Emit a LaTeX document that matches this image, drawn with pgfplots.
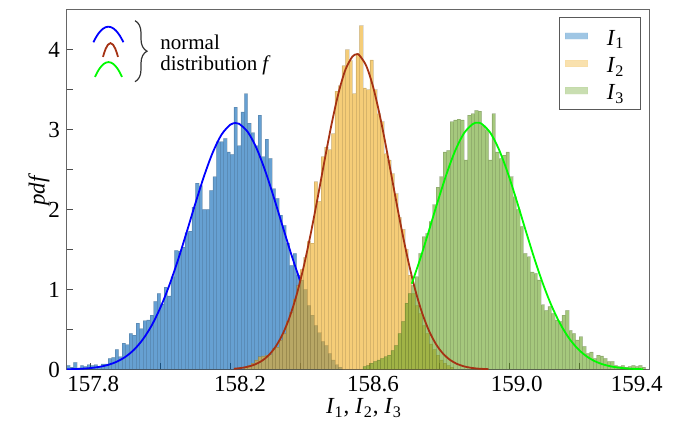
\documentclass[border=0pt]{standalone}
\usepackage{fontspec}
\setmainfont{Liberation Serif}
\usepackage{pgfplots}
\usepackage{pgfplotstable}
\pgfplotsset{compat=1.18}
\usetikzlibrary{decorations.pathreplacing}
\definecolor{cA}{RGB}{0,97,180}
\definecolor{cB}{RGB}{238,172,30}
\definecolor{cC}{RGB}{105,163,38}
\definecolor{cAl}{RGB}{95,160,210}
\definecolor{cBl}{RGB}{245,205,120}
\definecolor{cCl}{RGB}{165,200,125}
\definecolor{fA}{RGB}{0,0,255}
\definecolor{fB}{RGB}{165,50,20}
\definecolor{fC}{RGB}{0,250,0}

\pgfplotstableread{
x y
157.73 0.05
157.74 0.03
157.75 0.09
157.76 0.02
157.77 0.05
157.78 0.04
157.79 0.06
157.80 0.05
157.81 0.06
157.82 0.04
157.83 0.07
157.84 0.07
157.85 0.14
157.86 0.15
157.87 0.25
157.88 0.16
157.89 0.33
157.90 0.31
157.91 0.45
157.92 0.43
157.93 0.58
157.94 0.51
157.95 0.61
157.96 0.62
157.97 0.68
157.98 0.85
157.99 0.95
158.00 0.82
158.01 1.03
158.02 0.92
158.03 1.16
158.04 1.49
158.05 1.48
158.06 1.53
158.07 1.71
158.08 1.73
158.09 2.03
158.10 2.33
158.11 2.30
158.12 2.00
158.13 2.00
158.14 2.24
158.15 2.41
158.16 2.85
158.17 2.85
158.18 2.89
158.19 2.72
158.20 2.69
158.21 3.28
158.22 2.80
158.23 3.22
158.24 3.45
158.25 3.08
158.26 2.96
158.27 2.80
158.28 3.18
158.29 2.66
158.30 2.88
158.31 2.64
158.32 2.26
158.33 2.14
158.34 1.93
158.35 1.80
158.36 1.58
158.37 1.30
158.38 1.45
158.39 1.18
158.40 1.12
158.41 1.00
158.42 0.80
158.43 0.68
158.44 0.55
158.45 0.46
158.46 0.35
158.47 0.30
158.48 0.20
158.49 0.12
158.50 0.06
158.51 0.03
158.52 0
}\histA

\pgfplotstableread{
x y
158.24 0.03
158.25 0.05
158.26 0.08
158.27 0.12
158.28 0.16
158.29 0.17
158.30 0.18
158.31 0.19
158.32 0.26
158.33 0.28
158.34 0.37
158.35 0.45
158.36 0.60
158.37 0.72
158.38 0.88
158.39 1.05
158.40 1.25
158.41 1.40
158.42 1.60
158.43 1.58
158.44 2.35
158.45 2.10
158.46 2.66
158.47 2.78
158.48 2.75
158.49 2.95
158.50 3.48
158.51 3.55
158.52 3.80
158.53 4.00
158.54 3.86
158.55 3.45
158.56 3.95
158.57 4.30
158.58 3.52
158.59 3.50
158.60 3.87
158.61 3.50
158.62 3.20
158.63 3.10
158.64 2.70
158.65 2.62
158.66 2.45
158.67 2.20
158.68 1.90
158.69 1.75
158.70 1.50
158.71 1.18
158.72 0.95
158.73 0.80
158.74 0.70
158.75 0.55
158.76 0.45
158.77 0.32
158.78 0.25
158.79 0.18
158.80 0.12
158.81 0.08
158.82 0.05
158.83 0.03
158.84 0
}\histB

\pgfplotstableread{
x y
158.58 0.04
158.59 0.05
158.60 0.08
158.61 0.10
158.62 0.12
158.63 0.14
158.64 0.16
158.65 0.18
158.66 0.24
158.67 0.30
158.68 0.45
158.69 0.60
158.70 0.83
158.71 0.95
158.72 1.05
158.73 1.16
158.74 1.45
158.75 1.66
158.76 1.70
158.77 1.85
158.78 2.06
158.79 2.28
158.80 2.41
158.81 2.72
158.82 2.74
158.83 3.10
158.84 3.12
158.85 3.13
158.86 3.12
158.87 2.62
158.88 3.18
158.89 3.20
158.90 3.24
158.91 3.23
158.92 3.05
158.93 3.00
158.94 2.62
158.95 3.20
158.96 2.72
158.97 2.64
158.98 2.68
158.99 2.72
159.00 2.41
159.01 2.16
159.02 2.00
159.03 1.79
159.04 1.45
159.05 1.41
159.06 1.22
159.07 1.20
159.08 1.12
159.09 0.81
159.10 0.74
159.11 0.79
159.12 0.70
159.13 0.62
159.14 0.60
159.15 0.68
159.16 0.74
159.17 0.49
159.18 0.45
159.19 0.37
159.20 0.41
159.21 0.29
159.22 0.20
159.23 0.22
159.24 0.14
159.25 0.18
159.26 0.17
159.27 0.14
159.28 0.10
159.29 0.10
159.30 0.05
159.31 0.04
159.32 0.05
159.33 0.03
159.34 0.04
159.35 0.05
159.36 0.04
159.37 0.05
159.38 0.03
159.39 0
}\histC

\begin{document}
\begin{tikzpicture}
\path[use as bounding box] (-33.5pt,-28.25pt) rectangle (303.5pt,184.75pt);
\begin{axis}[
  at={(0,0)}, anchor=south west,
  scale only axis, width=291pt, height=179.75pt,
  xmin=157.732, xmax=159.4, ymin=0, ymax=4.494,
  axis line style={black!60, line width=0.5pt},
  tick align=inside, tick pos=left,
  xtick={157.8,158.0,158.2,158.4,158.6,158.8,159.0,159.2,159.4},
  xticklabels={},
  extra x ticks={157.807,158.228,158.609,159.021,159.365},
  extra x tick labels={157.8,158.2,158.6,159.0,159.4},
  extra x tick style={major tick length=0pt},
  ytick={0,1,2,3,4}, yticklabels={0,1,2,3,4},
  minor y tick num=1,
  major tick length=3pt, minor tick length=3pt,
  tick style={black!70, line width=0.5pt},
  ticklabel style={font=\fontsize{11.5}{13}\selectfont},
  xlabel={\textit{I}\textsubscript{1}, \textit{I}\textsubscript{2}, \textit{I}\textsubscript{3}},
  xlabel style={at={(axis description cs:0.5103,0)}, anchor=center, yshift=-19.25pt, font=\fontsize{11.5}{13}\selectfont},
  ylabel={\textit{pdf}},
  ylabel style={at={(axis description cs:-0.048,0.5)}, anchor=center, font=\fontsize{11.5}{13}\selectfont},
  legend style={at={(rel axis cs:1,1)}, anchor=north east, xshift=-4pt, yshift=-3.5pt,
    draw=black!65, line width=0.5pt, inner xsep=2.5pt, inner ysep=2.4pt,
    row sep=0pt, column sep=9.5pt,
    nodes={inner sep=0pt, text height=11.4pt, text depth=2.3pt},
    font=\fontsize{11.5}{13}\selectfont},
  legend cell align=left,
]
\addplot[ybar interval, fill=cA, fill opacity=0.6, draw=black, draw opacity=0.12, line width=0.25pt,
  legend image code/.code={\fill[cAl] (0pt,-1.6pt) rectangle (11.3pt,1.7pt);}] table[x=x,y=y] {\histA};
\addlegendentry{\textit{I}\textsubscript{1}\hspace*{5.5pt}}
\addplot[ybar interval, fill=cB, fill opacity=0.6, draw=black, draw opacity=0.12, line width=0.25pt,
  legend image code/.code={\fill[cBl] (0pt,-1.6pt) rectangle (11.3pt,1.7pt);}] table[x=x,y=y] {\histB};
\addlegendentry{\textit{I}\textsubscript{2}\hspace*{5.5pt}}
\addplot[ybar interval, fill=cC, fill opacity=0.6, draw=black, draw opacity=0.12, line width=0.25pt,
  legend image code/.code={\fill[cCl] (0pt,-1.6pt) rectangle (11.3pt,1.7pt);}] table[x=x,y=y] {\histC};
\addlegendentry{\textit{I}\textsubscript{3}\hspace*{5.5pt}}

\addplot[forget plot, fA, line width=0.9pt, smooth] coordinates {
(157.732,0.0030) (157.75,0.0049) (157.775,0.0096) (157.80,0.0181) (157.825,0.0331)
(157.85,0.058) (157.875,0.098) (157.90,0.160) (157.925,0.251) (157.95,0.380)
(157.975,0.553) (158.00,0.777) (158.025,1.050) (158.05,1.368) (158.075,1.717)
(158.10,2.077) (158.125,2.420) (158.15,2.716) (158.175,2.937) (158.20,3.060)
(158.215,3.081) (158.225,3.072) (158.25,2.970) (158.275,2.768) (158.30,2.484)
(158.325,2.148) (158.35,1.790) (158.375,1.436) (158.40,1.110)};
\addplot[forget plot, fB, line width=0.9pt, smooth] coordinates {
(158.21,0.0094) (158.23,0.0183) (158.25,0.0343) (158.27,0.0618) (158.29,0.107)
(158.31,0.178) (158.33,0.286) (158.35,0.441) (158.37,0.654) (158.39,0.932)
(158.41,1.279) (158.43,1.686) (158.45,2.138) (158.47,2.609) (158.49,3.061)
(158.51,3.454) (158.53,3.748) (158.55,3.912) (158.562,3.940) (158.57,3.928)
(158.59,3.792) (158.61,3.522) (158.63,3.145) (158.65,2.702) (158.67,2.232)
(158.69,1.773) (158.71,1.355) (158.73,0.996) (158.75,0.704) (158.77,0.479)
(158.79,0.313) (158.81,0.197) (158.83,0.119) (158.85,0.0693) (158.87,0.0388)
(158.89,0.0209) (158.91,0.0108) (158.94,0.0037)};
\addplot[forget plot, fC, line width=0.9pt, smooth] coordinates {
(158.72,1.072) (158.745,1.393) (158.77,1.746) (158.795,2.106) (158.82,2.447)
(158.845,2.740) (158.87,2.955) (158.895,3.069) (158.908,3.085) (158.92,3.072)
(158.945,2.961) (158.97,2.750) (158.995,2.460) (159.02,2.120) (159.045,1.760)
(159.07,1.407) (159.095,1.084) (159.12,0.804) (159.145,0.575) (159.17,0.396)
(159.195,0.263) (159.22,0.168) (159.245,0.103) (159.27,0.0612) (159.295,0.035)
(159.32,0.0193) (159.345,0.0102) (159.37,0.0052) (159.383,0.0036)};
\end{axis}
% key for the fitted normal curves
\draw[fA, line width=0.9pt] (13.2pt,163.6pt) parabola bend (20.7pt,171.4pt) (28.2pt,163.6pt);
\draw[fB, line width=0.9pt] (18pt,156.3pt) parabola bend (21.75pt,163.2pt) (25.5pt,156.3pt);
\draw[fC, line width=0.9pt] (14pt,146.3pt) parabola bend (20.75pt,153.7pt) (27.5pt,146.3pt);
\draw[black!80, line width=0.6pt, decorate, decoration={brace, amplitude=6pt}] (34pt,174.4pt) -- (34pt,143.9pt);
\node[anchor=base west, inner sep=0pt, font=\fontsize{10.5}{10.4}\selectfont] at (46.5pt,159.75pt) {normal};
\node[anchor=base west, inner sep=0pt, font=\fontsize{10.5}{10.4}\selectfont] at (46.5pt,149.4pt) {distribution \textit{f}};
\end{tikzpicture}
\end{document}
